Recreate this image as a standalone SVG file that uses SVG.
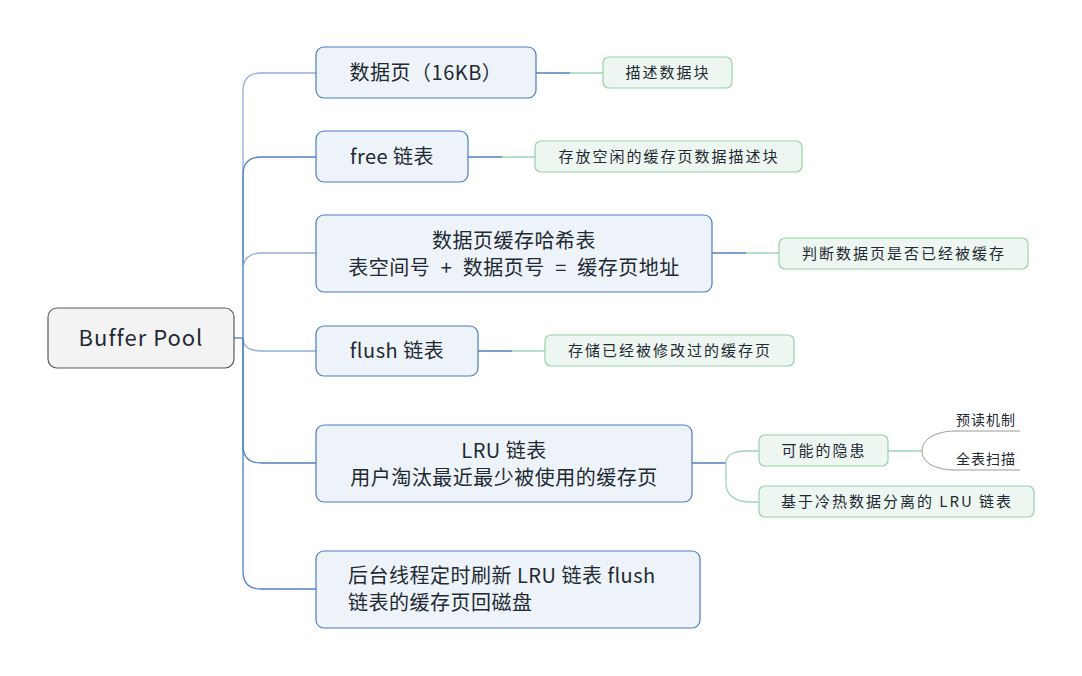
<svg xmlns="http://www.w3.org/2000/svg" width="1082" height="676" viewBox="0 0 1082 676">
<style>
text{font-family:"Noto Sans CJK SC","Liberation Sans",sans-serif;fill:#1f2a33}
.root rect{fill:#f3f3f3;stroke:#5a5a5a;stroke-width:1.2}
.main rect{fill:#eef3fa;stroke:#4a7ebf;stroke-width:1.2}
.sub rect{fill:#edf6f0;stroke:#95d2a9;stroke-width:1.2}
.main text{font-size:20px;letter-spacing:0.5px}
.sub text{font-size:15px;letter-spacing:2px}
.leaf text{font-size:14px;letter-spacing:1px}
.c{fill:none;stroke:#4f7fc0;stroke-width:1.3}
.cl{fill:none;stroke:#8fb0da;stroke-width:1.3}
.g{fill:none;stroke:#9fd6b1;stroke-width:1.3}
.gr{fill:none;stroke:#9a9a9a;stroke-width:1}
</style>
<rect width="1082" height="676" fill="#ffffff"/>
<g id="connectors">
<path class="c" d="M234,338 H243"/>
<path class="cl" d="M243,338 V91 Q243,73 261,73 H316"/>
<path class="c" d="M243,338 V175 Q243,157 261,157 H316"/>
<path class="cl" d="M243,338 V271 Q243,253 261,253 H316"/>
<path class="cl" d="M243,338 C243,347 250,351 262,351 H316"/>
<path class="c" d="M243,338 V445 Q243,463 261,463 H316"/>
<path class="c" d="M243,338 V571 Q243,589 261,589 H316"/>
<path class="c" d="M536,73 H570"/><path class="g" d="M570,73 H603"/>
<path class="c" d="M468,157 H502"/><path class="g" d="M502,157 H535"/>
<path class="c" d="M712,253 H746"/><path class="g" d="M746,253 H779"/>
<path class="c" d="M478,351 H512"/><path class="g" d="M512,351 H545"/>
<path class="c" d="M692,463 H726"/>
<path class="g" d="M726,463 C726,455 734,451 746,451 H759"/>
<path class="g" d="M726,463 V484 C726,495 736,502 750,502 H759"/>
<path class="g" d="M888,451 H922"/>
<path class="gr" d="M955,431 H1020"/>
<path class="gr" d="M955,470 H1020"/>
<path class="gr" d="M922,451 C922,438 938,431 955,431"/>
<path class="gr" d="M922,451 C922,464 938,470 955,470"/>
</g>
<g id="root" class="root">
<rect x="48" y="308" width="186" height="60" rx="9"/>
<text x="141" y="346" font-size="22" text-anchor="middle" letter-spacing="1">Buffer Pool</text>
</g>
<g id="n1" class="main">
<rect x="316" y="47" width="220" height="51" rx="8"/>
<text x="426" y="80" text-anchor="middle" letter-spacing="1.5">数据页（16KB）</text>
</g>
<g id="n1s" class="sub">
<rect x="603" y="57" width="129" height="31" rx="6"/>
<text x="668" y="78" text-anchor="middle">描述数据块</text>
</g>
<g id="n2" class="main">
<rect x="316" y="131" width="152" height="51" rx="8"/>
<text x="392" y="164" text-anchor="middle">free 链表</text>
</g>
<g id="n2s" class="sub">
<rect x="535" y="141" width="267" height="31" rx="6"/>
<text x="669" y="162" text-anchor="middle">存放空闲的缓存页数据描述块</text>
</g>
<g id="n3" class="main">
<rect x="316" y="215" width="396" height="77" rx="8"/>
<text x="514" y="248" text-anchor="middle">数据页缓存哈希表</text>
<text x="514" y="275" text-anchor="middle">表空间号&#8194;+&#8194;数据页号&#8194;=&#8194;缓存页地址</text>
</g>
<g id="n3s" class="sub">
<rect x="779" y="238" width="249" height="31" rx="6"/>
<text x="904" y="259" text-anchor="middle">判断数据页是否已经被缓存</text>
</g>
<g id="n4" class="main">
<rect x="316" y="326" width="162" height="50" rx="8"/>
<text x="397" y="358" text-anchor="middle">flush 链表</text>
</g>
<g id="n4s" class="sub">
<rect x="545" y="335" width="249" height="31" rx="6"/>
<text x="670" y="356" text-anchor="middle">存储已经被修改过的缓存页</text>
</g>
<g id="n5" class="main">
<rect x="316" y="425" width="376" height="77" rx="8"/>
<text x="504" y="458" text-anchor="middle">LRU 链表</text>
<text x="504" y="485" text-anchor="middle">用户淘汰最近最少被使用的缓存页</text>
</g>
<g id="n5a" class="sub">
<rect x="759" y="435" width="129" height="31" rx="6"/>
<text x="824" y="456" text-anchor="middle">可能的隐患</text>
</g>
<g id="n5b" class="sub">
<rect x="759" y="486" width="275" height="31" rx="6"/>
<text x="897" y="507" text-anchor="middle" letter-spacing="1.2">基于冷热数据分离的 LRU 链表</text>
</g>
<g id="leaf1" class="leaf">
<text x="986" y="425" text-anchor="middle">预读机制</text>
</g>
<g id="leaf2" class="leaf">
<text x="986" y="464" text-anchor="middle">全表扫描</text>
</g>
<g id="n6" class="main">
<rect x="316" y="551" width="384" height="77" rx="8"/>
<text x="348" y="583">后台线程定时刷新 LRU 链表 flush</text>
<text x="348" y="610">链表的缓存页回磁盘</text>
</g>
</svg>
